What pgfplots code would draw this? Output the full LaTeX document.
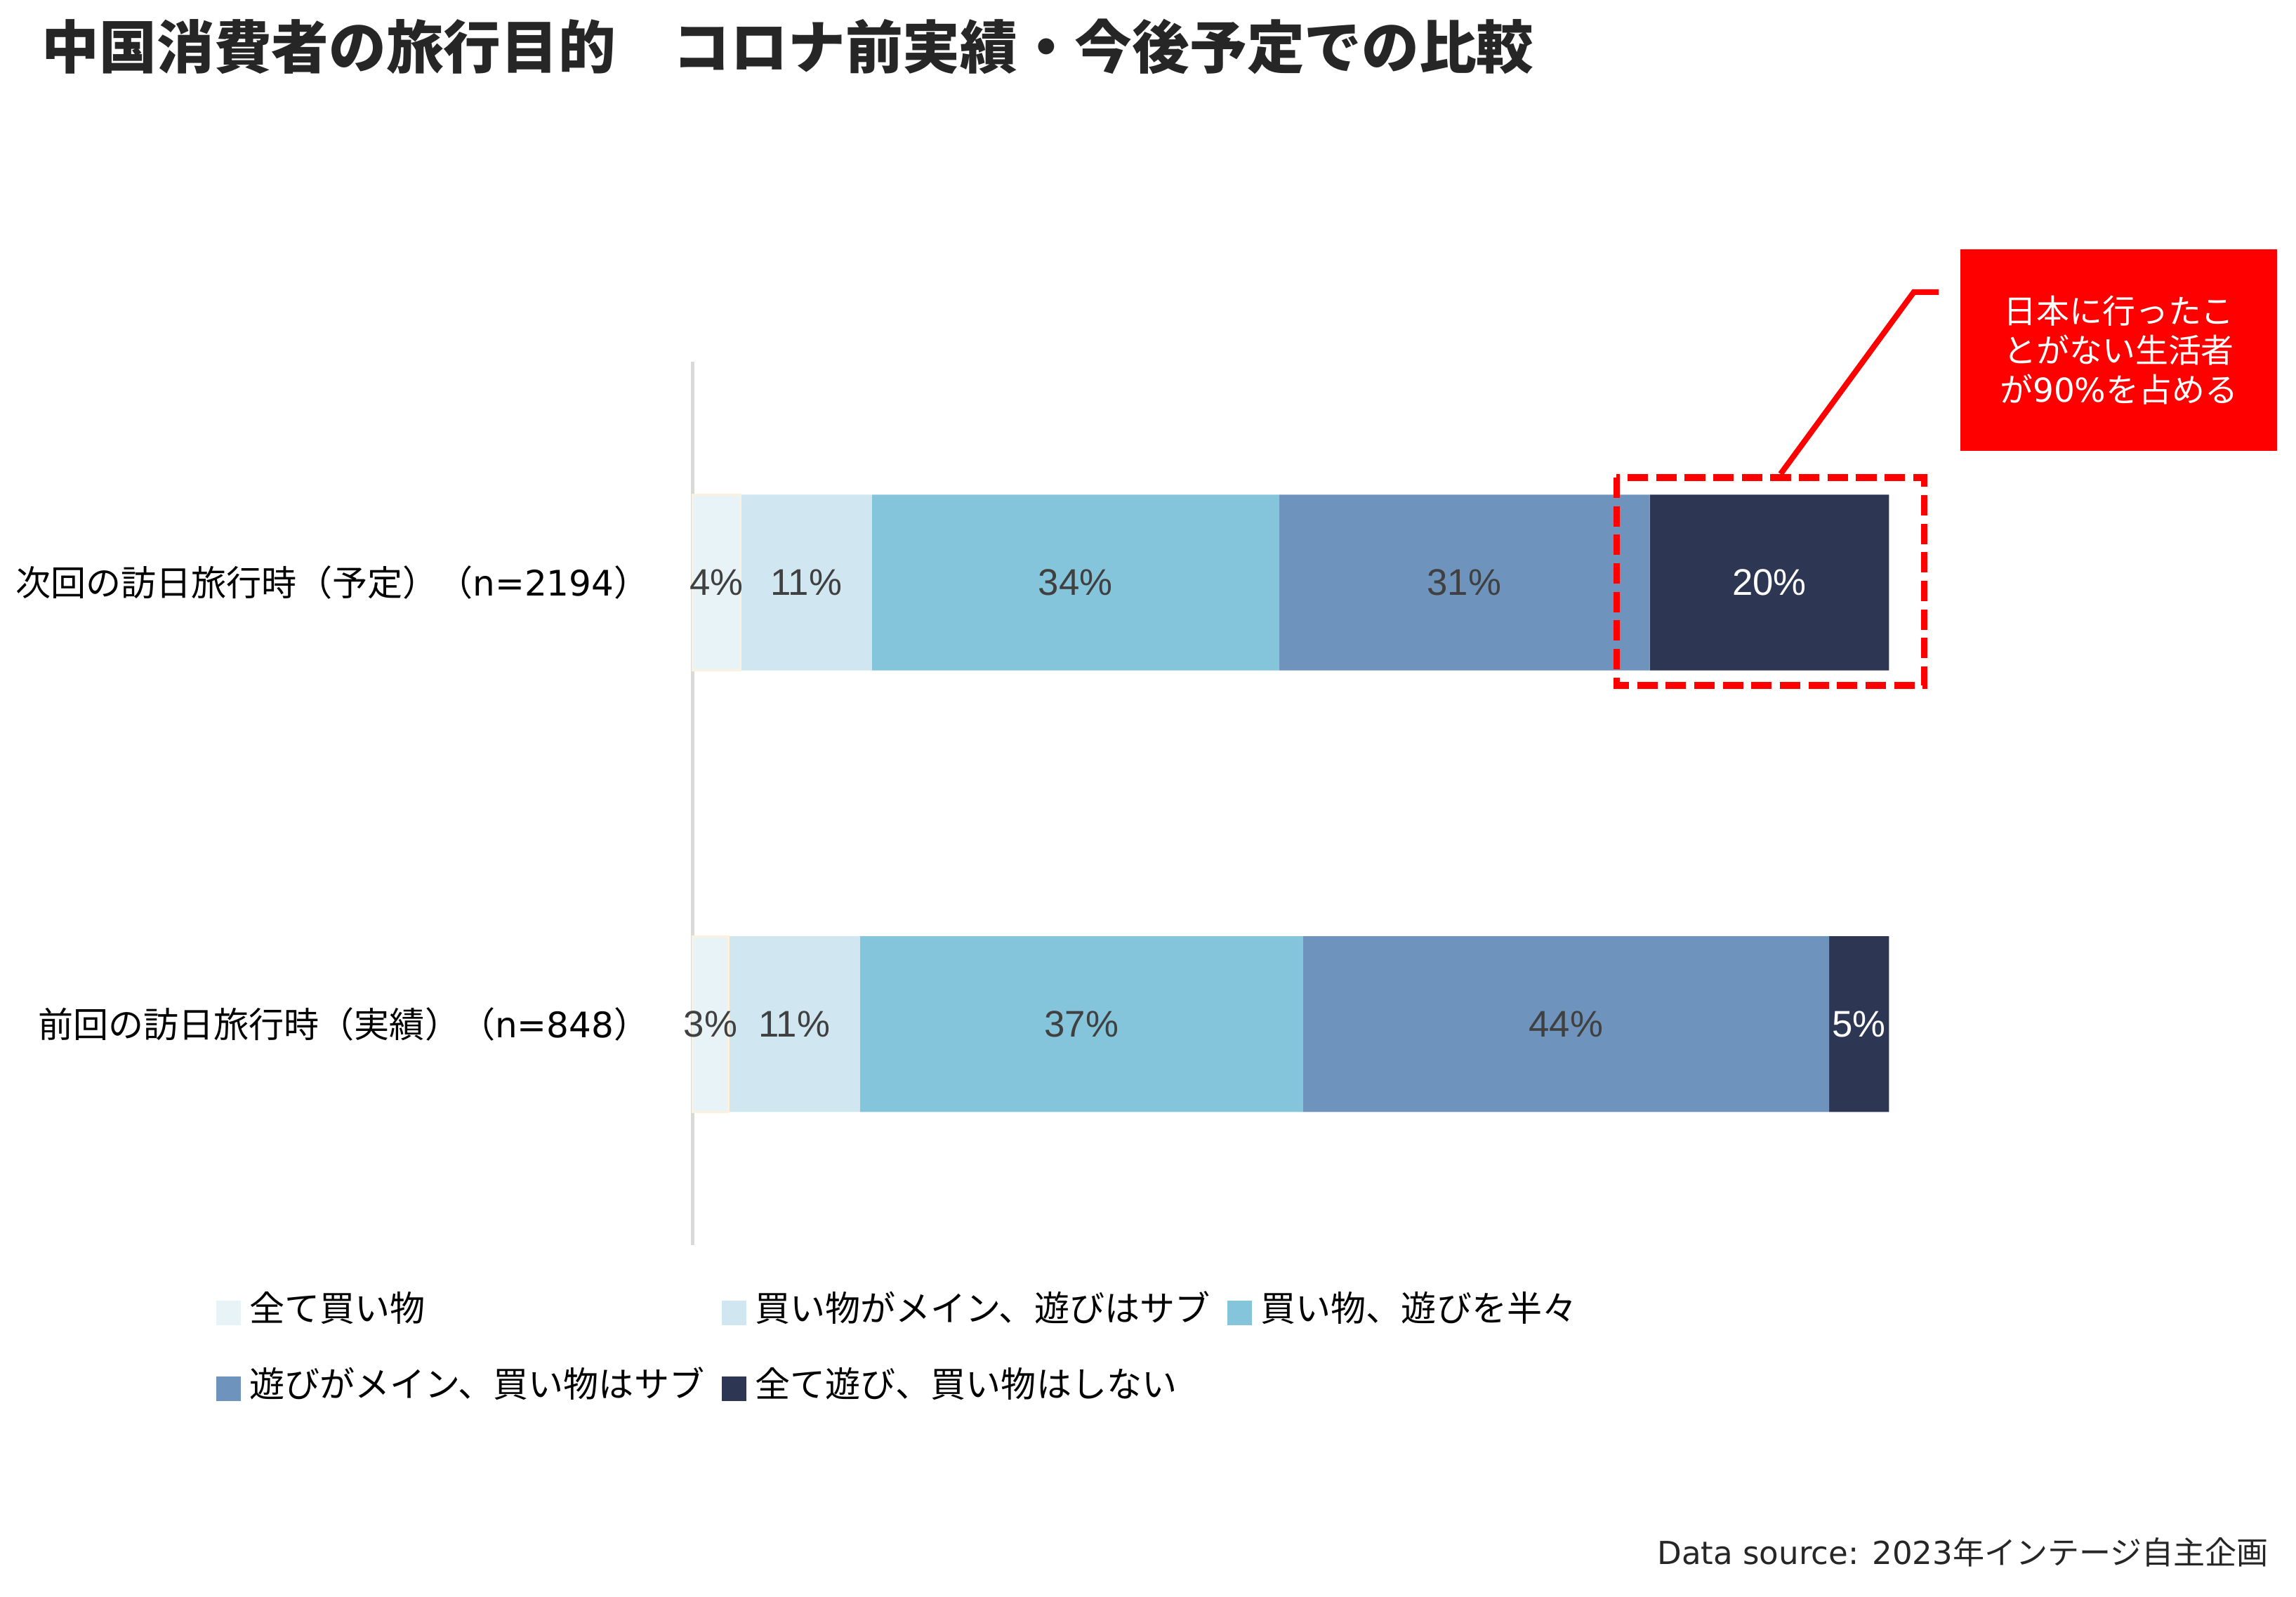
\documentclass[border=0pt]{standalone}
\usepackage{fontspec}
\setmainfont{Noto Sans CJK JP}
\newfontfamily\arial{Liberation Sans}
\newfontfamily\dvs{DejaVu Sans}
\usepackage{pgfplots}
\pgfplotsset{compat=1.18}
\definecolor{segA}{HTML}{E8F3F8}
\definecolor{segB}{HTML}{D0E7F1}
\definecolor{segC}{HTML}{84C5DC}
\definecolor{segD}{HTML}{6E94BD}
\definecolor{segE}{HTML}{2D3754}
\definecolor{cream}{HTML}{FBF1DE}
\definecolor{labgray}{HTML}{404040}
\definecolor{axgray}{HTML}{D9D9D9}
\definecolor{titlegray}{HTML}{262626}
\begin{document}
\begin{tikzpicture}
\path[use as bounding box] (0,0) rectangle (15.68,10.9);
\begin{axis}[
  at={(4.73cm,2.40cm)}, anchor=south west,
  scale only axis, width=8.17cm, height=6.03cm,
  xbar stacked, bar width=1.2cm,
  xmin=0, xmax=100, ymin=-0.5, ymax=1.5,
  clip=false,
  axis x line=none, axis y line=left,
  y axis line style={-, draw=axgray, line width=0.6pt},
  ytick={0,1},
  yticklabels={前回の訪日旅行時（実績）（{\dvs n=848}）, 次回の訪日旅行時（予定）（{\dvs n=2194}）},
  major tick length=0pt,
  yticklabel style={font=\fontsize{6.83pt}{8pt}\selectfont, text=black, anchor=east, inner sep=0pt, xshift=-0.29cm},
  point meta=explicit,
  /pgf/number format/assume math mode=true,
  nodes near coords={\pgfmathprintnumber{\pgfplotspointmeta}\%},
  every node near coord/.append style={anchor=center, font=\arial\fontsize{7.2pt}{8pt}\selectfont, text=labgray},
  legend columns=3,
  legend image code/.code={\fill[#1, draw=none] (0cm,-0.1cm) rectangle (0.167cm,0.067cm);},
  legend style={at={(rel axis cs:-0.399,-0.0514)}, anchor=north west, draw=none, fill=none,
    inner sep=0pt, font=\fontsize{6.83pt}{8pt}\selectfont, row sep=0.26cm,
    nodes={inner sep=0pt},
    /tikz/every odd column/.append style={column sep=0.06cm},
    /tikz/every even column/.append style={column sep=0.12cm}},
  legend cell align=left,
]
\addplot[fill=segA, draw=cream, line width=0.4pt] coordinates {(4,1) [4] (3,0) [3]};
\addplot[fill=segB, draw=none] coordinates {(11,1) [11] (11,0) [11]};
\addplot[fill=segC, draw=none] coordinates {(34,1) [34] (37,0) [37]};
\addplot[fill=segD, draw=none] coordinates {(31,1) [31] (44,0) [44]};
\addplot[fill=segE, draw=none, every node near coord/.append style={text=white}] coordinates {(20,1) [20] (5,0) [5]};
\legend{全て買い物, 買い物がメイン、遊びはサブ, 買い物、遊びを半々, 遊びがメイン、買い物はサブ, 全て遊び、買い物はしない}
\end{axis}
\node[anchor=west, inner sep=0pt, font=\bfseries\fontsize{11.15pt}{13pt}\selectfont, text=titlegray] at (0.28,10.58) {中国消費者の旅行目的　コロナ前実績・今後予定での比較};
\draw[red, line width=1.3pt, dash pattern=on 0.14cm off 0.055cm] (11.04,7.64) rectangle (13.14,6.22);
\draw[red, line width=1.1pt] (12.16,7.664) -- (13.07,8.906) -- (13.24,8.906);
\node[fill=red, minimum width=2.16cm, minimum height=1.38cm, inner sep=0pt, align=center, text=white, font=\fontsize{6.4pt}{7.68pt}\selectfont] at (14.47,8.51) {日本に行ったこ\\とがない生活者\\が{\dvs 90\%}を占める};
\node[anchor=east, inner sep=0pt, font=\fontsize{6.15pt}{8pt}\selectfont, text=titlegray] at (15.50,0.30) {{\dvs Data source: 2023}年インテージ自主企画};
\end{tikzpicture}
\end{document}
